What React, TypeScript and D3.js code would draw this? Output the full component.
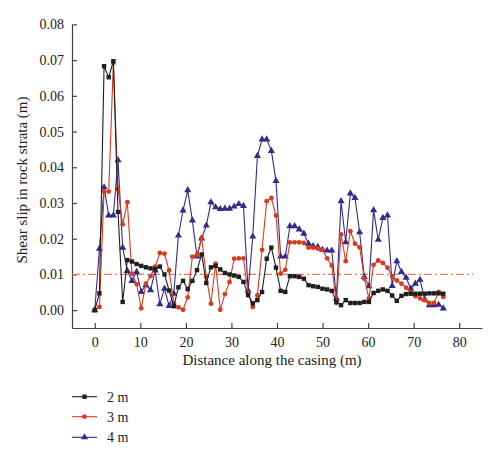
import React, { useEffect, useRef } from "react";
import * as d3 from "d3";

// distance along the casing (m), one node per ~1.02 m
const distance = [
  0, 1.02, 2.04, 3.06, 4.08, 5.1, 6.12, 7.14, 8.16, 9.18, 10.2, 11.22, 12.24,
  13.26, 14.28, 15.3, 16.32, 17.34, 18.36, 19.38, 20.4, 21.42, 22.44, 23.46,
  24.48, 25.5, 26.52, 27.54, 28.56, 29.58, 30.6, 31.62, 32.64, 33.66, 34.68,
  35.7, 36.72, 37.74, 38.76, 39.78, 40.8, 41.82, 42.84, 43.86, 44.88, 45.9,
  46.92, 47.94, 48.96, 49.98, 51, 52.02, 53.04, 54.06, 55.08, 56.1, 57.12,
  58.14, 59.16, 60.18, 61.2, 62.22, 63.24, 64.26, 65.28, 66.3, 67.32, 68.34,
  69.36, 70.38, 71.4, 72.42, 73.44, 74.46, 75.48, 76.5,
];

const slip2m = [
  0, 0.0047, 0.0683, 0.0652, 0.0697, 0.0275, 0.0023, 0.014, 0.0136, 0.0129,
  0.0124, 0.012, 0.0117, 0.0115, 0.0122, 0.01, 0.0055, 0.0011, 0.0064, 0.0082,
  0.0059, 0.0082, 0.0112, 0.0156, 0.0076, 0.012, 0.0124, 0.0114, 0.0104, 0.01,
  0.0097, 0.0093, 0.0079, 0.0042, 0.0019, 0.0028, 0.0051, 0.0144, 0.0175,
  0.0119, 0.0054, 0.0051, 0.0095, 0.0095, 0.0093, 0.0088, 0.007, 0.0067,
  0.0065, 0.006, 0.0058, 0.0054, 0.0023, 0.0014, 0.0028, 0.002, 0.002, 0.002,
  0.0023, 0.0023, 0.0048, 0.0054, 0.0058, 0.0054, 0.0041, 0.0026, 0.004,
  0.0045, 0.0046, 0.0046, 0.0046, 0.0046, 0.0047, 0.0047, 0.0047, 0.0046,
];

const slip3m = [
  0, 0.0009, 0.0332, 0.0332, 0.0692, 0.0339, 0.024, 0.0302, 0.0102, 0.0073,
  0.0005, 0.0074, 0.0095, 0.0122, 0.016, 0.0158, 0.0111, 0.0019, 0.0008,
  0.0001, 0.0036, 0.015, 0.0155, 0.0202, 0.0093, 0.0018, 0.013, 0.0001,
  0.0045, 0.0079, 0.0144, 0.0145, 0.0145, 0.0047, 0.0009, 0.0042, 0.0169,
  0.0305, 0.0314, 0.0265, 0.0102, 0.0113, 0.019, 0.019, 0.019, 0.0188, 0.0175,
  0.0175, 0.0172, 0.0169, 0.0145, 0.0125, 0.002, 0.0212, 0.0137, 0.0221,
  0.0186, 0.0176, 0.0088, 0.0033, 0.0127, 0.0139, 0.0132, 0.0119, 0.0094,
  0.0083, 0.0074, 0.0063, 0.0051, 0.0039, 0.0033, 0.0028, 0.002, 0.002, 0.0051,
  0.0037,
];

const slip4m = [
  0, 0.0172, 0.0344, 0.0265, 0.0265, 0.042, 0.0175, 0.011, 0.0082, 0.0107,
  0.0051, 0.007, 0.0056, 0.0111, 0.0017, 0.006, 0.0012, 0.0046, 0.0209, 0.0279,
  0.0336, 0.0251, 0.015, 0.0201, 0.0237, 0.0302, 0.0288, 0.0283, 0.0284,
  0.0284, 0.029, 0.0297, 0.0292, 0.0055, 0.0206, 0.0432, 0.0478, 0.0478,
  0.0446, 0.0362, 0.015, 0.015, 0.0235, 0.0235, 0.0226, 0.0214, 0.0186, 0.0179,
  0.0177, 0.0169, 0.0167, 0.0167, 0.0033, 0.0305, 0.019, 0.0327, 0.0314,
  0.0218, 0.0093, 0.0067, 0.028, 0.0197, 0.0258, 0.0265, 0.0068, 0.0137,
  0.0107, 0.0091, 0.006, 0.0074, 0.0085, 0.003, 0.0014, 0.0014, 0.0015, 0.0005,
];

const seriesNames = ["2 m", "3 m", "4 m"];
const xTicks = [0, 10, 20, 30, 40, 50, 60, 70, 80];
const yTicks = [0, 0.01, 0.02, 0.03, 0.04, 0.05, 0.06, 0.07, 0.08];
const limit = 0.01;

const colors = ["#1e1e1e", "#d83b1c", "#35298f"];
const font = "'Liberation Serif', 'Times New Roman', serif";

const App = () => {
  const ref = useRef<SVGSVGElement>(null);

  useEffect(() => {
    const svg = d3.select(ref.current);
    svg.selectAll("*").remove();

    const width = 500,
      height = 458;
    const left = 72,
      right = 482,
      top = 24.4,
      bottom = 328;

    const x = d3.scaleLinear().domain([-5, 85]).range([left, right]);
    const y = d3.scaleLinear().domain([-0.005, 0.08]).range([bottom, top]);

    svg.attr("width", width).attr("height", height);

    // axes, ticks pointing inward
    const axisColor = "#444";
    const xAxis = svg
      .append("g")
      .attr("transform", `translate(0,${bottom})`)
      .call(
        d3.axisBottom(x).tickValues(xTicks).tickSizeInner(-5).tickSizeOuter(0).tickPadding(9)
      );
    const yAxis = svg
      .append("g")
      .attr("transform", `translate(${left},0)`)
      .call(
        d3
          .axisLeft(y)
          .tickValues(yTicks)
          .tickFormat(d3.format(".2f"))
          .tickSizeInner(-5)
          .tickSizeOuter(0)
          .tickPadding(8)
      );
    [xAxis, yAxis].forEach((g) => {
      g.select(".domain").attr("stroke", axisColor).attr("stroke-width", 1.2);
      g.selectAll(".tick line").attr("stroke", axisColor).attr("stroke-width", 1.2);
      g.selectAll(".tick text")
        .attr("fill", "#222")
        .style("font-family", font)
        .style("font-size", "14px");
    });

    // threshold line
    svg
      .append("line")
      .attr("x1", left)
      .attr("x2", 473)
      .attr("y1", y(limit))
      .attr("y2", y(limit))
      .attr("stroke", "#e27a64")
      .attr("stroke-width", 1.2)
      .attr("stroke-dasharray", "8,3,2,3");

    const all = [slip2m, slip3m, slip4m];
    const line = d3
      .line<number>()
      .x((_, i) => x(distance[i]))
      .y((d) => y(d));

    const tri = d3.symbol().type(d3.symbolTriangle).size(22);

    const drawMarker = (g: any, k: number, cx: number, cy: number) => {
      if (k === 0) {
        g.append("rect")
          .attr("x", cx - 2.2)
          .attr("y", cy - 2.2)
          .attr("width", 4.4)
          .attr("height", 4.4)
          .attr("fill", colors[k]);
      } else if (k === 1) {
        g.append("circle").attr("cx", cx).attr("cy", cy).attr("r", 2.4).attr("fill", colors[k]);
      } else {
        g.append("path")
          .attr("d", tri())
          .attr("transform", `translate(${cx},${cy})`)
          .attr("fill", colors[k]);
      }
    };

    // draw 4 m first so 2 m sits on top
    [2, 1, 0].forEach((k) => {
      const g = svg.append("g");
      g.append("path")
        .attr("d", line(all[k]))
        .attr("fill", "none")
        .attr("stroke", colors[k])
        .attr("stroke-width", 1.1);
      all[k].forEach((v, i) => drawMarker(g, k, x(distance[i]), y(v)));
    });

    // axis titles
    svg
      .append("text")
      .attr("x", 272)
      .attr("y", 365)
      .attr("text-anchor", "middle")
      .style("font-family", font)
      .style("font-size", "15px")
      .attr("fill", "#222")
      .text("Distance along the casing (m)");
    svg
      .append("text")
      .attr("transform", "translate(27,180) rotate(-90)")
      .attr("text-anchor", "middle")
      .style("font-family", font)
      .style("font-size", "15px")
      .attr("fill", "#222")
      .text("Shear slip in rock strata (m)");

    // legend
    const legendRows = [396.7, 416.7, 437.3];
    seriesNames.forEach((name, k) => {
      const g = svg.append("g");
      const ly = legendRows[k];
      g.append("line")
        .attr("x1", 72)
        .attr("x2", 97)
        .attr("y1", ly)
        .attr("y2", ly)
        .attr("stroke", colors[k])
        .attr("stroke-width", 1.1);
      drawMarker(g, k, 84.5, ly);
      g.append("text")
        .attr("x", 107)
        .attr("y", ly + 4.8)
        .style("font-family", font)
        .style("font-size", "14px")
        .attr("fill", "#222")
        .text(name);
    });
  }, []);

  return (
    <svg
      ref={ref}
      style={{ position: "absolute", left: 0, top: 0, background: "#fff" }}
    />
  );
};

export default App;
